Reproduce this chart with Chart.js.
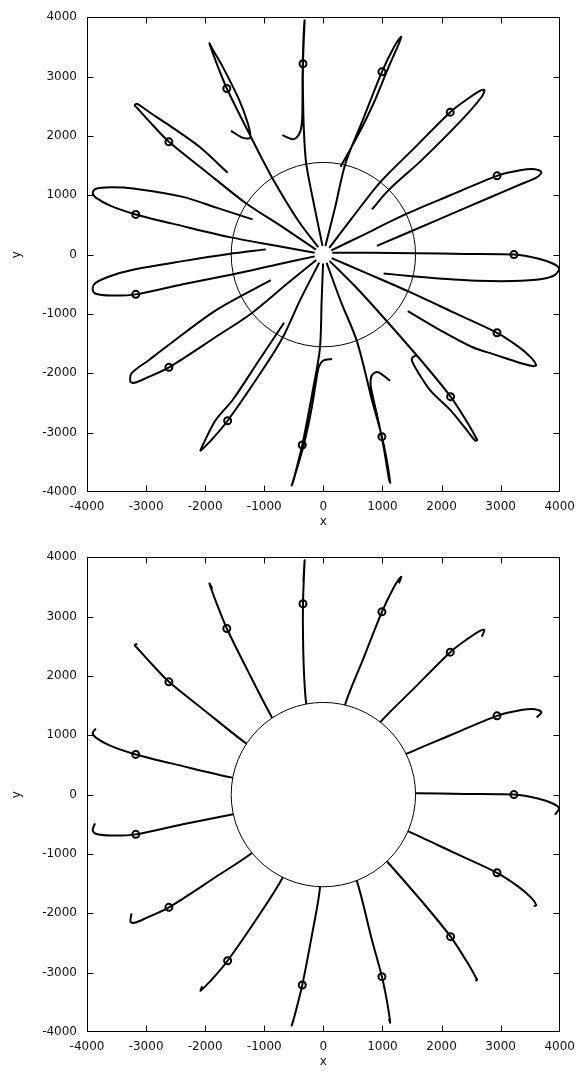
<!DOCTYPE html>
<html>
<head>
<meta charset="utf-8">
<script src="https://cdn.jsdelivr.net/npm/chart.js@4"></script>
<style>
  html, body { margin: 0; padding: 0; background: #fff; overflow: hidden; }
  .panel { position: absolute; left: 0; width: 583px; height: 540px; }
</style>
</head>
<body>
<div class="panel" style="top:0"><canvas id="c1" width="583" height="540"></canvas></div>
<div class="panel" style="top:540px"><canvas id="c2" width="583" height="540"></canvas></div>
<script>
// ---------- data ----------
const tickValues = [-4000, -3000, -2000, -1000, 0, 1000, 2000, 3000, 4000];
const tickLabels = ['-4000', '-3000', '-2000', '-1000', '0', '1000', '2000', '3000', '4000'];
const CIRCLE_R = 1560;

// marker positions
const markerX = [3225, 2939, 2147, 991, -345, -1634, -2614, -3175, -3175, -2614, -1620, -357, 991, 2153, 2939];
const markerY = [0, 1327, 2400, 3079, 3215, 2799, 1900, 677, -670, -1900, -2799, -3208, -3068, -2394, -1317];

// trajectories: outward arm (centre -> tip) and return arm (tip -> end)
const t000out  = [[150,30],[800,30],[1560,22],[2400,12],[3225,0],[3630,-65],[3880,-150],[3990,-230]];
const t000back = [[3920,-340],[3700,-410],[3200,-445],[2600,-440],[2000,-405],[1500,-365],[1020,-317]];
const t024out  = [[135,70],[600,295],[1412,689],[2150,1000],[2939,1327],[3350,1425],[3580,1440],[3690,1390]];
const t024back = [[3610,1300],[3350,1190],[2787,950],[1945,590],[906,148]];
const t048out  = [[100,115],[480,610],[963,1221],[1550,1806],[2147,2400],[2450,2630],[2650,2760],[2725,2775]];
const t048back = [[2680,2660],[2338,2265],[1664,1592],[1103,1086],[822,761]];
const t072out  = [[35,145],[200,800],[374,1536],[680,2300],[991,3079],[1180,3470],[1316,3669]];
const t072back = [[1280,3560],[1100,3150],[850,2550],[580,2000],[289,1479]];
const t096out  = [[-15,150],[-150,800],[-290,1531],[-330,2100],[-345,2700],[-345,3215],[-330,3650],[-317,3950]];
const t096back = [[-338,3600],[-352,3000],[-357,2321],[-384,2097],[-450,1975],[-525,1945],[-694,2013]];
const t120out  = [[-85,125],[-413,553],[-872,1305],[-1230,1990],[-1634,2799],[-1790,3180],[-1928,3557]];
const t120back = [[-1880,3470],[-1703,3163],[-1423,2602],[-1275,2200],[-1235,1975],[-1300,1955],[-1400,1985],[-1563,2085]];
const t144out  = [[-125,85],[-700,470],[-1322,874],[-2000,1410],[-2614,1900],[-2950,2250],[-3150,2470],[-3192,2518]];
const t144back = [[-3150,2540],[-2937,2395],[-2658,2210],[-2097,1816],[-1620,1378]];
const t168out  = [[-147,30],[-800,150],[-1563,290],[-2378,480],[-3175,677],[-3600,820],[-3850,960],[-3904,1041]];
const t168back = [[-3850,1110],[-3600,1135],[-3220,1115],[-2378,973],[-1800,787],[-1199,593]];
const t192out  = [[-147,-30],[-800,-170],[-1525,-330],[-2378,-500],[-3175,-670],[-3600,-690],[-3850,-660],[-3904,-598]];
const t192back = [[-3865,-485],[-3600,-360],[-3220,-255],[-2378,-110],[-1600,10],[-973,88]];
const t216out  = [[-120,-90],[-600,-480],[-1226,-996],[-1815,-1384],[-2614,-1900],[-3000,-2080],[-3200,-2160],[-3264,-2142]];
const t216back = [[-3247,-2001],[-2950,-1775],[-2658,-1553],[-1815,-935],[-889,-429]];
const t240out  = [[-70,-135],[-400,-780],[-690,-1400],[-1030,-1945],[-1620,-2799],[-1900,-3130],[-2060,-3290],[-2080,-3304]];
const t240back = [[-2050,-3230],[-1830,-2799],[-1536,-2450],[-1100,-1798],[-665,-1148]];
const t264out  = [[-5,-150],[-30,-800],[-59,-1585],[-189,-2343],[-357,-3208],[-480,-3700],[-536,-3890]];
const t264back = [[-505,-3800],[-330,-3200],[-200,-2600],[-110,-2050],[-76,-1889],[-20,-1800],[37,-1772],[148,-1760]];
const t288out  = [[55,-140],[300,-800],[569,-1462],[822,-2450],[991,-3068],[1080,-3500],[1131,-3843]];
const t288back = [[1110,-3780],[1030,-3300],[930,-2800],[850,-2450],[800,-2200],[810,-2060],[860,-1995],[935,-1984],[1131,-2125]];
const t312out  = [[105,-105],[600,-600],[1086,-1136],[1693,-1830],[2153,-2394],[2450,-2850],[2580,-3080],[2602,-3124]];
const t312back = [[2570,-3135],[2420,-2950],[2150,-2620],[1805,-2282],[1580,-1945],[1500,-1790],[1515,-1725],[1570,-1700]];
const t336out  = [[140,-60],[700,-300],[1440,-620],[2200,-973],[2939,-1317],[3300,-1550],[3520,-1740],[3601,-1861]];
const t336back = [[3560,-1880],[3348,-1832],[2900,-1685],[2506,-1553],[1974,-1272],[1428,-951]];

// number of return-arm points shown in the lower panel (the small hook)
const hookPoints = 1;

const outs  = [t000out, t024out, t048out, t072out, t096out, t120out, t144out, t168out, t192out, t216out, t240out, t264out, t288out, t312out, t336out];
const backs = [t000back, t024back, t048back, t072back, t096back, t120back, t144back, t168back, t192back, t216back, t240back, t264back, t288back, t312back, t336back];

// ---------- chart building ----------
const FONT = { family: "'DejaVu Sans', sans-serif", size: 12 };
const toXY = arr => arr.map(p => ({ x: p[0], y: p[1] }));

const framePlugin = {
  id: 'frame',
  afterDatasetsDraw(chart, args, opts) {
    const { ctx, chartArea: a, scales: { x, y } } = chart;
    const cx = x.getPixelForValue(0), cy = y.getPixelForValue(0);
    const r = x.getPixelForValue(CIRCLE_R) - cx;
    ctx.save();
    ctx.beginPath();
    ctx.rect(a.left, a.top, a.right - a.left, a.bottom - a.top);
    ctx.clip();
    ctx.beginPath();
    ctx.arc(cx, cy, r, 0, Math.PI * 2);
    if (opts.fillCircle) { ctx.fillStyle = '#fff'; ctx.fill(); }
    ctx.lineWidth = 1;
    ctx.strokeStyle = '#000';
    ctx.stroke();
    ctx.restore();

    ctx.save();
    ctx.strokeStyle = '#000';
    ctx.lineWidth = 1;
    const L = Math.round(a.left) + 0.5, R = Math.round(a.right) - 0.5;
    const T = Math.round(a.top) + 0.5, B = Math.round(a.bottom) - 0.5;
    ctx.strokeRect(L, T, R - L, B - T);
    const tl = 6;
    ctx.beginPath();
    x.ticks.forEach((t, i) => {
      if (i === 0 || i === x.ticks.length - 1) return;
      const px = Math.round(x.getPixelForValue(t.value)) + 0.5;
      ctx.moveTo(px, B); ctx.lineTo(px, B - tl);
      ctx.moveTo(px, T); ctx.lineTo(px, T + tl);
    });
    y.ticks.forEach((t, i) => {
      if (i === 0 || i === y.ticks.length - 1) return;
      const py = Math.round(y.getPixelForValue(t.value)) + 0.5;
      ctx.moveTo(L, py); ctx.lineTo(L + tl, py);
      ctx.moveTo(R, py); ctx.lineTo(R - tl, py);
    });
    ctx.stroke();
    ctx.restore();
  }
};

function makeChart(canvasId, lower) {
  const datasets = outs.map((o, i) => ({
    data: toXY(lower ? o.concat(backs[i].slice(0, hookPoints)) : o.concat(backs[i])),
    showLine: true,
    borderColor: '#000',
    borderWidth: 2,
    pointRadius: 0,
    tension: 0.3,
    fill: false
  }));
  datasets.push({
    data: markerX.map((v, i) => ({ x: v, y: markerY[i] })),
    showLine: false,
    pointStyle: 'circle',
    pointRadius: 3.5,
    pointBorderWidth: 2,
    pointBorderColor: '#000',
    pointBackgroundColor: 'rgba(0,0,0,0)'
  });
  const axis = (title, isX) => ({
    type: 'linear',
    min: -4000, max: 4000,
    afterBuildTicks: s => { s.ticks = tickValues.map(v => ({ value: v })); },
    afterFit: s => { if (isX) s.height = 48; else s.width = 87; },
    grid: { display: false, drawTicks: false, tickLength: 0 },
    border: { display: false },
    ticks: {
      font: FONT, color: '#111', padding: isX ? 8 : 10,
      maxRotation: 0, autoSkip: false,
      callback: (v, i) => tickLabels[i]
    },
    title: {
      display: true, text: title, font: FONT, color: '#111',
      padding: isX ? { top: 0, bottom: 11 } : { top: 9.5, bottom: 0 }
    }
  });
  return new Chart(document.getElementById(canvasId), {
    type: 'scatter',
    data: { datasets },
    options: {
      responsive: false,
      devicePixelRatio: 1,
      animation: false,
      layout: { padding: { left: 0, right: 21, top: 17, bottom: 0 } },
      plugins: { legend: { display: false }, tooltip: { enabled: false }, frame: { fillCircle: lower } },
      scales: { x: axis('x', true), y: axis('y', false) }
    },
    plugins: [framePlugin]
  });
}

makeChart('c1', false);
makeChart('c2', true);
</script>
</body>
</html>
